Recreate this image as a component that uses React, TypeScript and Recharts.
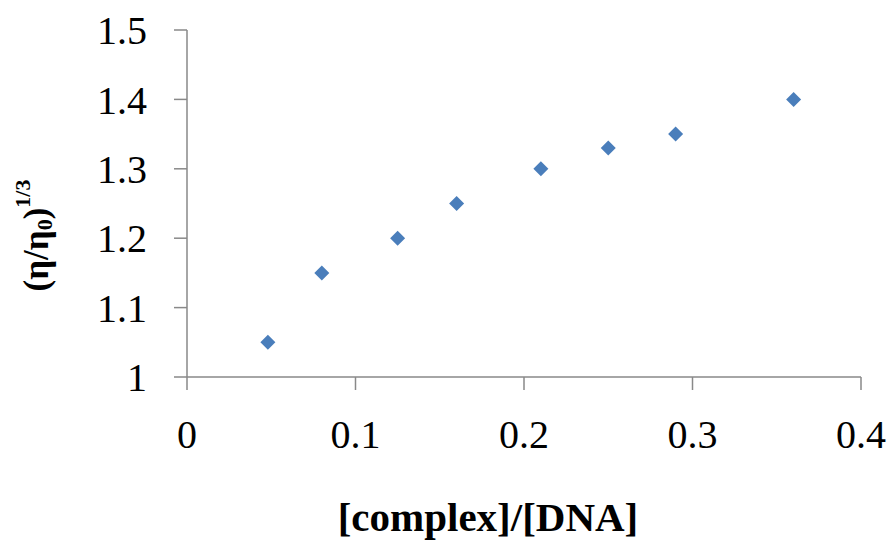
import { ScatterChart, Scatter, XAxis, YAxis, Label } from "recharts";

const ratio = [0.048, 0.08, 0.125, 0.16, 0.21, 0.25, 0.29, 0.36];
const viscosity = [1.05, 1.15, 1.2, 1.25, 1.3, 1.33, 1.35, 1.4];
const xTicks = [0, 0.1, 0.2, 0.3, 0.4];
const yTicks = [1, 1.1, 1.2, 1.3, 1.4, 1.5];

const points = ratio.map((x, i) => ({ x, y: viscosity[i] }));

const FONT = "'Liberation Serif', 'Times New Roman', serif";
const AXIS_GRAY = "#898989";
const MARKER = "#4a7ebb";

type Box = { x: number; y: number; width: number; height: number };

function Diamond(props: { cx?: number; cy?: number }) {
  const { cx = 0, cy = 0 } = props;
  const r = 7.5;
  return (
    <path
      d={`M${cx},${cy - r}L${cx + r},${cy}L${cx},${cy + r}L${cx - r},${cy}Z`}
      fill={MARKER}
    />
  );
}

function YTitle(props: { viewBox?: Box }) {
  const vb = props.viewBox ?? { x: 0, y: 0, width: 0, height: 0 };
  const cx = 36;
  const cy = vb.y + vb.height / 2 + 32;
  return (
    <text
      x={cx}
      y={cy}
      transform={`rotate(-90, ${cx}, ${cy})`}
      textAnchor="middle"
      dominantBaseline="central"
      fontFamily={FONT}
      fontWeight="bold"
      fontSize={35}
      fill="#000"
    >
      (η/η
      <tspan fontSize={22} dy={8}>0</tspan>
      <tspan dy={-8}>)</tspan>
      <tspan fontSize={22} dy={-14}>1/3</tspan>
    </text>
  );
}

function XTitle(props: { viewBox?: Box }) {
  const vb = props.viewBox ?? { x: 0, y: 0, width: 0, height: 0 };
  const cx = vb.x + vb.width / 2 - 36;
  const cy = vb.y + vb.height - 32;
  return (
    <text
      x={cx}
      y={cy}
      textAnchor="middle"
      dominantBaseline="central"
      fontFamily={FONT}
      fontWeight="bold"
      fontSize={41}
      fill="#000"
    >
      [complex]/[DNA]
    </text>
  );
}

export default function App() {
  return (
    <div style={{ position: "absolute", left: 0, top: 0, background: "#fff" }}>
      <ScatterChart
        width={891}
        height={549}
        margin={{ top: 30, right: 30, bottom: 0, left: 0 }}
      >
        <XAxis
          type="number"
          dataKey="x"
          domain={[0, 0.4]}
          ticks={xTicks}
          interval={0}
          height={172}
          tickSize={13}
          tickMargin={30}
          axisLine={{ stroke: AXIS_GRAY, strokeWidth: 1.5 }}
          tickLine={{ stroke: AXIS_GRAY, strokeWidth: 1.5 }}
          tick={{ fontFamily: FONT, fontSize: 40, fill: "#000" }}
        >
          <Label content={<XTitle />} />
        </XAxis>
        <YAxis
          type="number"
          dataKey="y"
          domain={[1, 1.5]}
          ticks={yTicks}
          interval={0}
          width={187}
          tickSize={13}
          tickMargin={27}
          axisLine={{ stroke: AXIS_GRAY, strokeWidth: 1.5 }}
          tickLine={{ stroke: AXIS_GRAY, strokeWidth: 1.5 }}
          tick={{ fontFamily: FONT, fontSize: 40, fill: "#000" }}
        >
          <Label content={<YTitle />} />
        </YAxis>
        <Scatter data={points} shape={<Diamond />} isAnimationActive={false} />
      </ScatterChart>
    </div>
  );
}
